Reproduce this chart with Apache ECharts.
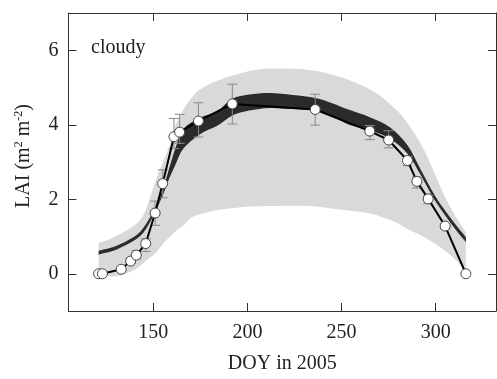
<!DOCTYPE html>
<html><head><meta charset="utf-8">
<script src="https://cdn.jsdelivr.net/npm/echarts@6/dist/echarts.min.js"></script>
<style>html,body{margin:0;padding:0;background:#fff}#c{width:497px;height:379px}</style>
</head><body><div id="c"></div>
<script>
// tick labels
const xTicks = [150, 200, 250, 300];
const yTicks = [0, 2, 4, 6];

// observed LAI (circles)
const obsDoy = [121, 123, 133, 138, 141, 146, 151, 155, 161, 164, 174, 192, 236, 265, 275, 285, 290, 296, 305, 316];
const obsLai = [0, 0, 0.12, 0.34, 0.5, 0.81, 1.63, 2.42, 3.68, 3.8, 4.1, 4.56, 4.41, 3.83, 3.59, 3.04, 2.48, 2.01, 1.28, 0];
const errLow  = [null, null, null, 0.28, 0.4, 0.6, 1.3, 2.04, 3.36, 3.5, 3.67, 4.02, 3.99, 3.6, 3.38, 2.9, 2.3, 1.88, 1.2, null];
const errHigh = [null, null, null, 0.42, 0.62, 0.94, 1.95, 2.79, 4.17, 4.28, 4.59, 5.09, 4.82, 3.98, 3.84, 3.15, 2.6, 2.1, 1.35, null];

// light gray envelope
const envDoy  = [121, 130, 140, 145, 148, 152, 156, 159, 162, 166, 170, 175, 185, 200, 213, 233, 250, 265, 277, 285, 294, 306, 316];
const envHigh = [0.82, 1.0, 1.3, 1.6, 2.0, 2.6, 3.1, 3.5, 4.0, 4.4, 4.7, 4.95, 5.2, 5.43, 5.51, 5.47, 5.27, 4.95, 4.5, 4.05, 3.3, 1.95, 1.1];
const envLow  = [-0.05, -0.07, 0.1, 0.3, 0.42, 0.6, 0.85, 1.0, 1.15, 1.3, 1.5, 1.6, 1.72, 1.8, 1.82, 1.82, 1.72, 1.62, 1.42, 1.2, 0.98, 0.58, 0.1];

// dark modelled band
const modDoy  = [121, 130, 140, 145, 150, 155, 158, 162, 166, 175, 184, 192, 201, 212, 224, 236, 245, 254, 265, 276, 285, 292, 300, 309, 316];
const modLow  = [0.52, 0.64, 0.9, 1.12, 1.55, 2.1, 2.5, 2.95, 3.36, 3.75, 3.97, 4.25, 4.38, 4.45, 4.42, 4.38, 4.22, 4.0, 3.85, 3.62, 3.22, 2.65, 1.93, 1.29, 0.85];
const modHigh = [0.62, 0.74, 1.0, 1.25, 1.68, 2.25, 2.75, 3.4, 3.89, 4.19, 4.37, 4.7, 4.81, 4.85, 4.8, 4.72, 4.58, 4.4, 4.2, 3.92, 3.45, 2.8, 2.06, 1.42, 0.98];

const FONT = 'Liberation Serif';
const chart = echarts.init(document.getElementById('c'), null, {renderer: 'canvas'});

// open Catmull-Rom curve through pixel points -> SVG path segments
function curve(pts, start) {
  let d = start ? 'M' + pts[0][0] + ',' + pts[0][1] : 'L' + pts[0][0] + ',' + pts[0][1];
  for (let i = 0; i < pts.length - 1; i++) {
    const p0 = pts[Math.max(0, i - 1)], p1 = pts[i], p2 = pts[i + 1], p3 = pts[Math.min(pts.length - 1, i + 2)];
    const c1 = [p1[0] + (p2[0] - p0[0]) / 6, p1[1] + (p2[1] - p0[1]) / 6];
    const c2 = [p2[0] - (p3[0] - p1[0]) / 6, p2[1] - (p3[1] - p1[1]) / 6];
    d += 'C' + c1[0] + ',' + c1[1] + ',' + c2[0] + ',' + c2[1] + ',' + p2[0] + ',' + p2[1];
  }
  return d;
}

function bandSeries(xs, lo, hi, color, z) {
  return {
    type: 'custom', z: z, silent: true, clip: true,
    data: xs.map((x, i) => [x, lo[i], hi[i]]),
    renderItem: function (params, api) {
      if (params.dataIndex !== 0) return null;
      const up = [], dn = [];
      for (let i = 0; i < xs.length; i++) up.push(api.coord([xs[i], hi[i]]));
      for (let i = xs.length - 1; i >= 0; i--) dn.push(api.coord([xs[i], lo[i]]));
      const d = curve(up, true) + curve(dn, false) + 'Z';
      return {type: 'path', shape: {pathData: d}, style: {fill: color, stroke: null}};
    }
  };
}

const errData = [];
obsDoy.forEach((d, i) => { if (errLow[i] != null) errData.push([d, errLow[i], errHigh[i]]); });

const axisLineStyle = {show: true, onZero: false, lineStyle: {color: '#333', width: 1}};
const tickStyle = {show: true, inside: true, length: 8, lineStyle: {color: '#333', width: 1}};

chart.setOption({
  animation: false,
  backgroundColor: '#fff',
  grid: {left: 68.5, top: 13, right: 1, bottom: 64, containLabel: false},
  xAxis: [{
    type: 'value', min: 105, max: 332, position: 'bottom',
    axisLine: axisLineStyle,
    axisTick: Object.assign({customValues: xTicks}, tickStyle),
    axisLabel: {customValues: xTicks, fontFamily: FONT, fontSize: 20, color: '#222', margin: 12},
    splitLine: {show: false},
    name: 'DOY in 2005', nameLocation: 'middle', nameGap: 43,
    nameTextStyle: {fontFamily: FONT, fontSize: 20, color: '#222'}
  }, {
    type: 'value', min: 105, max: 332, position: 'top',
    axisLine: axisLineStyle,
    axisTick: Object.assign({customValues: xTicks}, tickStyle),
    axisLabel: {show: false}, splitLine: {show: false}
  }],
  yAxis: [{
    type: 'value', min: -1, max: 7, position: 'left',
    axisLine: axisLineStyle,
    axisTick: Object.assign({customValues: yTicks}, tickStyle),
    axisLabel: {customValues: yTicks, fontFamily: FONT, fontSize: 20, color: '#222', margin: 10},
    splitLine: {show: false},
    name: '{n|LAI (m}{s|2}{n| m}{s|-2}{n|)}', nameLocation: 'middle', nameGap: 34,
    nameTextStyle: {
      fontFamily: FONT, fontSize: 20, color: '#222', padding: [0, 0, 0, 12],
      rich: {
        n: {fontFamily: FONT, fontSize: 20, color: '#222', lineHeight: 22},
        s: {fontFamily: FONT, fontSize: 12, color: '#222', verticalAlign: 'top', lineHeight: 22}
      }
    }
  }, {
    type: 'value', min: -1, max: 7, position: 'right',
    axisLine: axisLineStyle,
    axisTick: Object.assign({customValues: yTicks}, tickStyle),
    axisLabel: {show: false}, splitLine: {show: false}
  }],
  graphic: [{
    type: 'text', left: 91, top: 38,
    style: {text: 'cloudy', fontFamily: FONT, fontSize: 20, fill: '#222'}
  }],
  series: [
    bandSeries(envDoy, envLow, envHigh, '#d9d9d9', 1),
    bandSeries(modDoy, modLow, modHigh, '#2b2b2b', 2),
    {
      type: 'custom', z: 3, silent: true, data: errData,
      renderItem: function (params, api) {
        const x = api.value(0);
        const lo = api.coord([x, api.value(1)]);
        const hi = api.coord([x, api.value(2)]);
        const w = 5;
        const st = {stroke: '#8a8a8a', lineWidth: 1};
        return {type: 'group', children: [
          {type: 'line', shape: {x1: lo[0], y1: lo[1], x2: hi[0], y2: hi[1]}, style: st},
          {type: 'line', shape: {x1: lo[0] - w, y1: lo[1], x2: lo[0] + w, y2: lo[1]}, style: st},
          {type: 'line', shape: {x1: hi[0] - w, y1: hi[1], x2: hi[0] + w, y2: hi[1]}, style: st}
        ]};
      }
    },
    {
      type: 'line', z: 4,
      data: obsDoy.map((d, i) => [d, obsLai[i]]),
      lineStyle: {color: '#000', width: 2},
      symbol: 'circle', symbolSize: 10, showAllSymbol: true,
      itemStyle: {color: '#fff', borderColor: '#444', borderWidth: 1},
      emphasis: {disabled: true}
    }
  ]
});
</script>
</body></html>
